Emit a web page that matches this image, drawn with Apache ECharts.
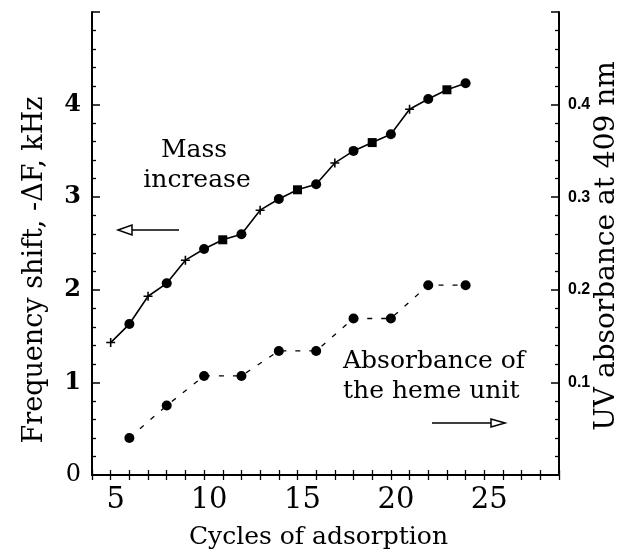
<!DOCTYPE html>
<html>
<head>
<meta charset="utf-8">
<script src="https://cdn.jsdelivr.net/npm/echarts@6/dist/echarts.min.js"></script>
<style>html,body{margin:0;padding:0;background:#fff}#c{width:633px;height:560px}</style>
</head>
<body>
<div id="c"></div>
<script>
// ---- data ----
const massCycles = [5,6,7,8,9,10,11,12,13,14,15,16,17,18,19,20,21,22,23,24];
const massValues = [1.43,1.63,1.93,2.07,2.32,2.44,2.54,2.60,2.86,2.98,3.08,3.14,3.37,3.50,3.59,3.68,3.95,4.06,4.16,4.23];
const massKinds  = ['plus','circle','plus','circle','plus','circle','square','circle','plus','circle','square','circle','plus','circle','square','circle','plus','circle','square','circle'];
const absCycles  = [6,8,10,12,14,16,18,20,22,24];
const absValues  = [0.040,0.075,0.107,0.107,0.134,0.134,0.169,0.169,0.205,0.205];
const xTickLabels = [5,10,15,20,25];
const leftTickLabels = [0,1,2,3,4];
const rightTickLabels = [0.1,0.2,0.3,0.4];

const SERIF = '"DejaVu Serif", serif';
const plusPath = 'path://M3.3,0H4.7V3.3H8V4.7H4.7V8H3.3V4.7H0V3.3H3.3Z';
const symFor = {plus: plusPath, circle: 'circle', square: 'rect'};
const sizeFor = {plus: 9, circle: 10, square: 9};

const massData = massCycles.map((c,i)=>({value:[c,massValues[i]], symbol:symFor[massKinds[i]], symbolSize:sizeFor[massKinds[i]]}));
const absData = absCycles.map((c,i)=>[c,absValues[i]]);

const axisLine = {show:true, lineStyle:{color:'#000', width:2}};
const chart = echarts.init(document.getElementById('c'), null, {renderer:'canvas'});
chart.setOption({
  animation:false,
  backgroundColor:'#fff',
  grid:{left:92, right:74, top:12, bottom:85, containLabel:false},
  xAxis:[
    {type:'value', position:'bottom', min:4, max:29, interval:1,
     axisLine:axisLine, splitLine:{show:false},
     axisTick:{show:true, inside:true, length:5, lineStyle:{color:'#000', width:1.3}},
     axisLabel:{show:true, margin:11, padding:[0,0,0,10], fontFamily:SERIF, fontSize:29, color:'#000',
       formatter:v=> xTickLabels.indexOf(v)>=0 ? String(v) : ''},
     name:'Cycles of adsorption', nameLocation:'middle', nameGap:50,
     nameTextStyle:{fontFamily:SERIF, fontSize:25, color:'#000', padding:[0,14,0,0]}},
    {type:'value', position:'top', min:4, max:29, interval:1,
     axisLine:axisLine, splitLine:{show:false},
     axisTick:{show:true, inside:true, length:5, lineStyle:{color:'#000', width:1.3}},
     axisLabel:{show:false}}
  ],
  yAxis:[
    {type:'value', position:'left', min:0, max:5, interval:1,
     axisLine:axisLine, splitLine:{show:false},
     axisTick:{show:true, inside:true, length:8, lineStyle:{color:'#000', width:1.5}},
     minorTick:{show:true, splitNumber:5, length:4, lineStyle:{color:'#000', width:1.3}},
     axisLabel:{margin:11, fontFamily:SERIF, fontWeight:'bold', fontSize:24, color:'#000',
       formatter:v=> leftTickLabels.indexOf(v)>=0 ? (v===0 ? '{n|0}' : String(v)) : '',
       rich:{n:{fontFamily:SERIF, fontWeight:'normal', fontSize:24, color:'#000'}}}},
    {type:'value', position:'right', min:0, max:0.5, interval:0.1,
     axisLine:axisLine, splitLine:{show:false},
     axisTick:{show:true, inside:true, length:8, lineStyle:{color:'#000', width:1.5}},
     minorTick:{show:true, splitNumber:5, length:4, lineStyle:{color:'#000', width:1.3}},
     axisLabel:{margin:9, fontFamily:'"Liberation Sans", Arial, sans-serif', fontWeight:'bold', fontSize:16, color:'#000',
       formatter:v=>{const r=Math.round(v*10)/10; return rightTickLabels.indexOf(r)>=0 ? r.toFixed(1) : '';}}}
  ],
  series:[
    {type:'line', name:'Mass increase', xAxisIndex:0, yAxisIndex:0, data:massData,
     lineStyle:{color:'#000', width:1.6}, itemStyle:{color:'#000'}, showAllSymbol:true, z:3},
    {type:'line', name:'Absorbance of the heme unit', xAxisIndex:0, yAxisIndex:1, data:absData,
     symbol:'circle', symbolSize:10,
     lineStyle:{color:'#000', width:1.3, type:[5,9]}, itemStyle:{color:'#000'}, z:3}
  ],
  graphic:[
    {type:'text', x:35, y:270, rotation:Math.PI/2,
     style:{text:'Frequency shift, -ΔF, kHz', font:'27px "DejaVu Serif", serif', fill:'#000', align:'center', verticalAlign:'middle'}},
    {type:'text', x:607, y:246, rotation:Math.PI/2,
     style:{text:'UV absorbance at 409 nm', font:'28px "DejaVu Serif", serif', fill:'#000', align:'center', verticalAlign:'middle'}},
    {type:'text', x:194, y:163, style:{text:'Mass', font:'25px "DejaVu Serif", serif', fill:'#000', align:'center', verticalAlign:'bottom'}},
    {type:'text', x:197, y:193, style:{text:'increase', font:'25px "DejaVu Serif", serif', fill:'#000', align:'center', verticalAlign:'bottom'}},
    {type:'text', x:343, y:374, style:{text:'Absorbance of', font:'25px "DejaVu Serif", serif', fill:'#000', align:'left', verticalAlign:'bottom'}},
    {type:'text', x:343, y:404, style:{text:'the heme unit', font:'25px "DejaVu Serif", serif', fill:'#000', align:'left', verticalAlign:'bottom'}},
    {type:'line', shape:{x1:131, y1:230, x2:179, y2:230}, style:{stroke:'#000', lineWidth:1.5}},
    {type:'polygon', shape:{points:[[118,230],[132,225],[132,235]]}, style:{stroke:'#000', fill:'#fff', lineWidth:1.5}},
    {type:'line', shape:{x1:432, y1:423, x2:492, y2:423}, style:{stroke:'#000', lineWidth:1.5}},
    {type:'polygon', shape:{points:[[505,423],[491,419],[491,427]]}, style:{stroke:'#000', fill:'#fff', lineWidth:1.5}}
  ]
});
</script>
</body>
</html>
